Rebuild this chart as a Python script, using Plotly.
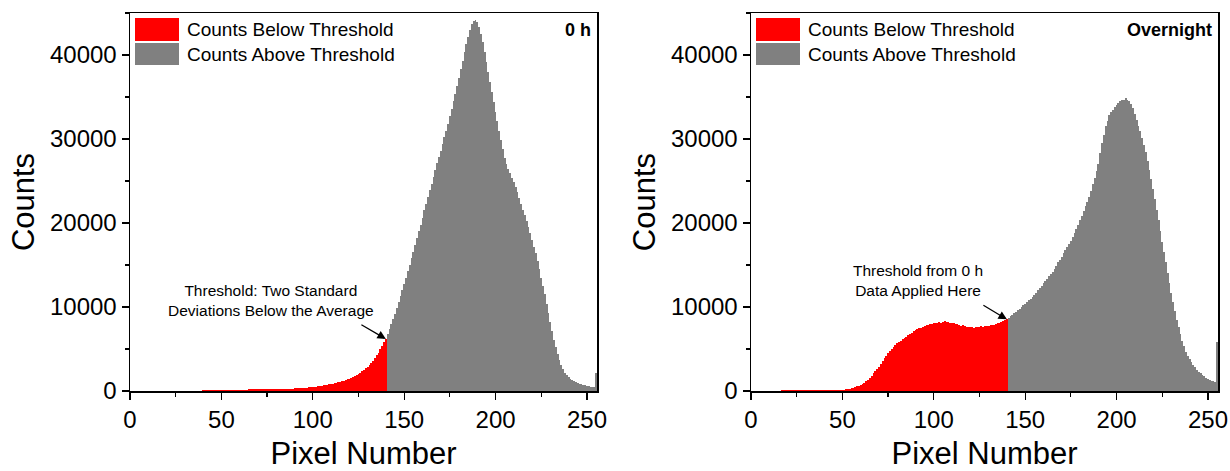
import plotly.graph_objects as go

# ---------------- data ----------------
pixels = list(range(256))
threshold = 140

counts_0h = [
    0, 0, 0, 0, 0, 0, 0, 0, 0, 0,
    0, 0, 0, 0, 0, 0, 0, 0, 0, 0,
    0, 0, 0, 0, 0, 0, 0, 0, 0, 0,
    0, 0, 0, 0, 0, 0, 0, 0, 0, 60,
    80, 80, 90, 90, 100, 100, 100, 110, 110, 110,
    120, 120, 120, 130, 130, 130, 140, 140, 150, 150,
    150, 160, 160, 170, 170, 180, 180, 185, 190, 190,
    195, 195, 200, 200, 200, 205, 205, 210, 210, 210,
    215, 220, 225, 230, 240, 250, 260, 270, 280, 290,
    300, 310, 320, 340, 350, 370, 390, 410, 430, 450,
    470, 500, 530, 560, 590, 620, 660, 700, 740, 780,
    830, 880, 930, 990, 1050, 1110, 1180, 1250, 1320, 1400,
    1480, 1570, 1670, 1780, 1900, 2030, 2170, 2330, 2500, 2690,
    2900, 3120, 3360, 3620, 3910, 4230, 4580, 4960, 5380, 5800,
    6200, 6800, 7400, 8000, 8600, 9200, 9900, 10600, 11300, 12000,
    12700, 13500, 14300, 15000, 15800, 16600, 17400, 18200, 19000, 19800,
    20600, 21500, 22300, 23100, 23900, 24700, 25500, 26300, 27100, 27800,
    28600, 29400, 30200, 31000, 31800, 32700, 33600, 34500, 35400, 36300,
    37300, 38300, 39300, 40300, 41300, 42200, 43000, 43700, 44100, 44200,
    43900, 43300, 42500, 41500, 40400, 39200, 38000, 36800, 35600, 34400,
    33200, 32100, 31000, 29900, 28800, 27700, 27000, 26400, 25900, 25400,
    24900, 24300, 23700, 23000, 22300, 21600, 20900, 20200, 19500, 18800,
    18000, 17200, 16400, 15500, 14500, 13500, 12500, 11500, 10400, 9300,
    8200, 7100, 6100, 5200, 4400, 3700, 3100, 2600, 2200, 1900,
    1650, 1450, 1300, 1150, 1050, 950, 870, 800, 740, 680,
    620, 570, 520, 480, 440, 2200,
]

counts_overnight = [
    0, 0, 0, 0, 0, 0, 0, 0, 0, 0,
    0, 0, 40, 50, 50, 60, 60, 70, 70, 80,
    80, 80, 90, 90, 90, 100, 100, 100, 100, 110,
    110, 110, 110, 120, 120, 120, 120, 130, 130, 130,
    130, 140, 140, 140, 150, 150, 150, 160, 160, 160,
    160, 170, 190, 210, 250, 320, 400, 480, 560, 630,
    700, 830, 1000, 1180, 1360, 1550, 1800, 2100, 2400, 2650,
    2900, 3200, 3550, 3900, 4200, 4500, 4750, 5000, 5250, 5450,
    5700, 5850, 6000, 6150, 6300, 6460, 6650, 6800, 6950, 7100,
    7260, 7350, 7450, 7550, 7650, 7740, 7800, 7900, 7950, 8000,
    8060, 8100, 8150, 8200, 8150, 8250, 8300, 8200, 8250, 8150,
    8060, 8100, 8000, 7950, 7900, 7750, 7800, 7700, 7650, 7600,
    7580, 7650, 7550, 7600, 7650, 7600, 7700, 7650, 7700, 7750,
    7740, 7800, 7850, 7900, 7950, 8060, 8150, 8250, 8350, 8450,
    8530, 8700, 8900, 9100, 9250, 9400, 9600, 9800, 10000, 10200,
    10400, 10600, 10800, 11000, 11200, 11400, 11700, 12000, 12300, 12550,
    12800, 13100, 13350, 13650, 13900, 14200, 14550, 14900, 15300, 15650,
    16000, 16400, 16750, 17150, 17500, 17900, 18350, 18800, 19300, 19800,
    20300, 20850, 21400, 22000, 22550, 23100, 23800, 24600, 25400, 26200,
    27000, 28300, 29500, 30500, 31500, 32200, 32800, 33200, 33500, 33800,
    34000, 34300, 34500, 34700, 34600, 34900, 34700, 34500, 34200, 33700,
    33000, 32300, 31600, 30900, 30100, 29300, 28400, 27400, 26300, 25200,
    24100, 22900, 21600, 20300, 19000, 17700, 16500, 15300, 14100, 12900,
    11700, 10600, 9500, 8500, 7600, 6800, 6000, 5300, 4700, 4200,
    3800, 3400, 3100, 2800, 2550, 2300, 2100, 1900, 1750, 1600,
    1450, 1350, 1250, 1150, 1050, 5850,
]

x_ticks = [0, 50, 100, 150, 200, 250]
y_ticks = [0, 10000, 20000, 30000, 40000]
legend_labels = ["Counts Below Threshold", "Counts Above Threshold"]
panel_labels = ["0 h", "Overnight"]
arrow_texts = ["Threshold: Two Standard<br>Deviations Below the Average",
               "Threshold from 0 h<br>Data Applied Here"]

RED = "#FF0000"
GRAY = "#808080"
FONT = "Liberation Sans, Arial, sans-serif"

W, H = 1230, 471
x_domains = [[130 / W, 597 / W], [751 / W, 1218 / W]]

fig = go.Figure()

datasets = [counts_0h, counts_overnight]
for i, data in enumerate(datasets):
    xa = "x" if i == 0 else "x2"
    ya = "y" if i == 0 else "y2"
    below_x = [p for p in pixels if p <= threshold]
    below_y = [data[p] for p in below_x]
    above_x = [p for p in pixels if p > threshold]
    above_y = [data[p] for p in above_x]
    fig.add_trace(go.Bar(x=below_x, y=below_y, width=1, marker=dict(color=RED, line=dict(width=0)),
                         xaxis=xa, yaxis=ya, showlegend=False, name=legend_labels[0]))
    fig.add_trace(go.Bar(x=above_x, y=above_y, width=1, marker=dict(color=GRAY, line=dict(width=0)),
                         xaxis=xa, yaxis=ya, showlegend=False, name=legend_labels[1]))

axis_common = dict(
    showline=True, linecolor="black", linewidth=1.5, mirror=True,
    ticks="outside", ticklen=7, tickwidth=1.3, tickcolor="black",
    showgrid=False, zeroline=False, automargin=False,
    tickfont=dict(family=FONT, size=24, color="black"),
)

x_title = dict(text="Pixel Number", font=dict(family=FONT, size=31, color="black"), standoff=23)
y_title = dict(text="Counts", font=dict(family=FONT, size=31, color="black"), standoff=6)

xaxis_cfg = dict(axis_common, range=[0, 255.5], tickvals=x_ticks,
                 minor=dict(dtick=25, tick0=0, ticklen=4, tickwidth=1.2, tickcolor="black", ticks="outside"))
yaxis_cfg = dict(axis_common, range=[0, 45000], tickvals=y_ticks, tickformat="d",
                 minor=dict(dtick=5000, tick0=0, ticklen=4, tickwidth=1.2, tickcolor="black", ticks="outside"))

fig.update_layout(
    width=W, height=H,
    margin=dict(l=0, r=0, t=13, b=80),
    paper_bgcolor="white", plot_bgcolor="white",
    bargap=0, barmode="overlay", hovermode=False,
    xaxis=dict(xaxis_cfg, domain=x_domains[0], anchor="y", title=x_title),
    yaxis=dict(yaxis_cfg, domain=[0, 1], anchor="x", title=y_title),
    xaxis2=dict(xaxis_cfg, domain=x_domains[1], anchor="y2", title=x_title),
    yaxis2=dict(yaxis_cfg, domain=[0, 1], anchor="x2", title=y_title),
)

# legend swatches & labels (drawn inside each panel)
shapes = []
annotations = []
for i in range(2):
    x0 = x_domains[i][0]
    px0 = x0 * W
    boxes = [(RED, 18, 41), (GRAY, 43, 65)]
    for (col, top, bot), lab in zip(boxes, legend_labels):
        shapes.append(dict(type="rect", xref="paper", yref="paper",
                           x0=(px0 + 5) / W, x1=(px0 + 49) / W,
                           y0=(391 - bot) / 378, y1=(391 - top) / 378,
                           fillcolor=col, line=dict(width=0)))
        annotations.append(dict(xref="paper", yref="paper",
                                x=(px0 + 55) / W, y=(391 - (top + bot) / 2) / 378,
                                text=lab, showarrow=False, xanchor="left", yanchor="middle",
                                font=dict(family=FONT, size=19, color="black")))
    # panel label
    annotations.append(dict(xref="paper", yref="paper",
                            x=(x_domains[i][1] * W - 4) / W, y=(391 - 30) / 378,
                            text="<b>%s</b>" % panel_labels[i], showarrow=False,
                            xanchor="right", yanchor="middle",
                            font=dict(family=FONT, size=18, color="black")))

# arrows pointing at the threshold bar
arrow_heads = [counts_0h[threshold], counts_overnight[threshold]]
arrow_offsets = [(-26, -15), (-25, -15)]
text_pos = [(77, 10770), (91.4, 13150)]
for i in range(2):
    xa = "x" if i == 0 else "x2"
    ya = "y" if i == 0 else "y2"
    annotations.append(dict(xref=xa, yref=ya, x=threshold, y=arrow_heads[i], text="",
                            showarrow=True, arrowhead=2, arrowsize=1.3, arrowwidth=1.3,
                            arrowcolor="black", ax=arrow_offsets[i][0], ay=arrow_offsets[i][1]))
    annotations.append(dict(xref=xa, yref=ya, x=text_pos[i][0], y=text_pos[i][1],
                            text=arrow_texts[i], showarrow=False, xanchor="center", yanchor="middle",
                            font=dict(family=FONT, size=15.5, color="black")))

fig.update_layout(shapes=shapes, annotations=annotations)

fig.write_html(
    "out.html",
    config={"displayModeBar": False, "staticPlot": True},
    post_script="document.body.style.margin='0px';document.body.style.overflow='hidden';",
)
